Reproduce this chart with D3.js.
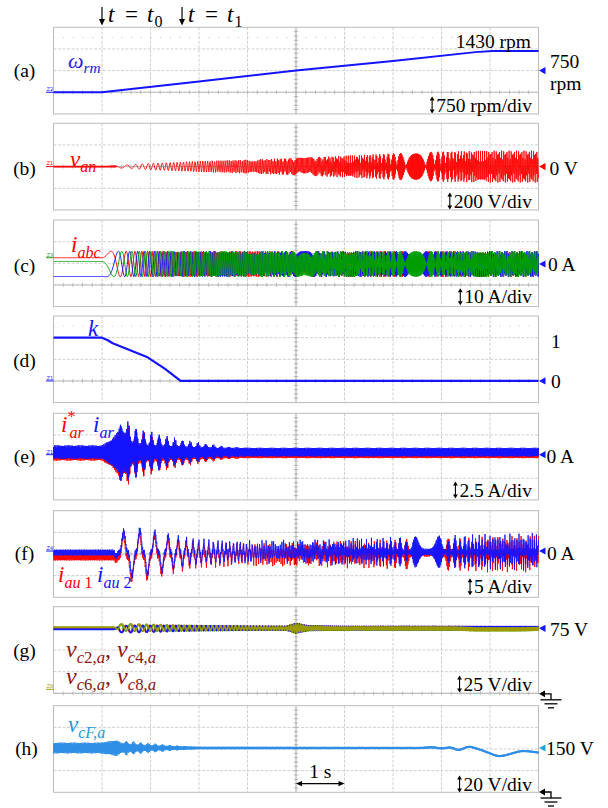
<!DOCTYPE html>
<html>
<head>
<meta charset="utf-8">
<script src="https://cdn.jsdelivr.net/npm/d3@7/dist/d3.min.js"></script>
<style>
  html, body { margin: 0; padding: 0; background: #ffffff; }
  svg { display: block; }
</style>
</head>
<body>
<svg id="scope" width="608" height="808" font-family="'Liberation Serif', 'Times New Roman', serif"></svg>
<script>
// ---------------- record and events ----------------
const timeSpan = [0, 10];                 // s, 1 s/div
const timeDivs = [0, 1, 2, 3, 4, 5, 6, 7, 8, 9, 10];
const eventT0 = 1.0;                      // t = t0
const eventT1 = 2.65;                     // t = t1
const acqRate = 117;                      // record points per second
const polePairs = 3;

// ---------------- (a) rotor speed, rpm ----------------
const speedT   = [0, 1.0, 3.0, 5.0, 7.0, 8.7, 9.05, 10];
const speedRpm = [0, 0, 375, 750, 1086, 1390, 1430, 1430];

// ---------------- (b) phase voltage envelope, V ----------------
const vanEnvT = [0, 1.0, 1.3, 1.5, 2.0, 2.5, 3.0, 4.0, 5.0, 6.0, 7.0, 8.0, 9.0, 10];
const vanEnvV = [0, 0, 10, 16, 30, 40, 50, 64, 80, 100, 122, 140, 147, 148];

// ---------------- (c) stator currents ----------------
const iabcAmp = 5.9;                          // A
const iabcPhaseDeg = [-60.6, 169, 78.8];      // red, blue, green at standstill
const iabcColors = ["#ff0000", "#1414ff", "#00a000"];

// ---------------- (d) k ----------------
const kT = [0, 1.0, 1.12, 1.22, 1.94, 2.3, 2.62, 10];
const kV = [1, 1, 0.94, 0.87, 0.546, 0.28, 0, 0];

// ---------------- (e) i_ar*, i_ar (A) ----------------
const iarBandT  = [0, 1.0, 1.2, 1.38, 1.5, 1.65, 2.0, 3.5, 10];
const iarBandA  = [0.78, 0.78, 1.5, 2.7, 2.2, 1.1, 0.85, 0.5, 0.5];
const iarSpikeT = [0, 1.3, 1.45, 1.6, 2.0, 2.3, 2.6, 3.0, 3.5, 4.0, 10];
const iarSpikeA = [0, 0, 1.2, 2.0, 1.6, 1.2, 0.85, 0.55, 0.2, 0, 0];
const iarSpikePeriod = 0.16;                  // s
const iarOffset = 0.3, iarRefOffset = 0.1;    // A

// ---------------- (f) i_au1, i_au2 (A) ----------------
const iauOscT  = [0, 1.25, 1.35, 1.45, 1.65, 1.9, 2.2, 2.6, 3.0, 4.0, 5.0, 6.0, 7.0, 8.0, 9.0, 10];
const iauOscA  = [0, 0, 3.0, 5.0, 5.4, 5.1, 4.3, 3.2, 2.4, 2.0, 2.2, 2.5, 2.8, 3.1, 3.5, 3.7];
const iauFreqT  = [0, 1.2, 1.6, 2.2, 2.6, 3.0, 3.5, 4.0, 5.0, 7.7, 9.0, 10];
const iauFreqHz = [2.5, 2.5, 3.0, 3.4, 5.5, 9, 12, 16, 37, 58.5, 68, 70];
const iauPhase0 = 0.35;                       // cycles
const iauBandA = 0.7;
const iauOffT = [0, 1.2, 3.0, 10];
const iau1Off = [-1.5, -1.5, -0.9, -0.7];
const iau2Off = [-0.35, -0.35, -0.2, -0.2];

// ---------------- (g) capacitor voltages (V) ----------------
const vcLevelT   = [0, 1.2, 3.0, 8.3, 8.7, 9.6, 10];
const vcRedLvl   = [74.2, 74.2, 75.3, 75.4, 75.2, 75.0, 75.0];
const vcGreenLvl = [76.0, 76.0, 75.0, 74.8, 74.2, 74.2, 74.6];
const vcBlueLvl  = [73.8, 73.8, 75.2, 75.4, 75.4, 75.4, 75.4];
const vcOliveLvl = [76.4, 76.4, 75.2, 74.9, 73.9, 73.9, 74.5];
const vcOscT = [0, 1.25, 1.35, 1.6, 2.0, 3.0, 4.0, 4.8, 5.0, 5.25, 6.0, 10];
const vcOscV = [0, 0, 3.8, 4.1, 3.8, 2.9, 2.3, 2.1, 5.5, 2.6, 1.9, 1.7];
const vcFreqT  = [0, 1.25, 1.6, 2.5, 3.5, 5.0, 7.0, 10];
const vcFreqHz = [4.5, 4.5, 5.6, 8.3, 12.5, 20, 30, 40];
const vcShiftDeg = [30, 210, 0, 180];         // red, green, blue, olive

// ---------------- (h) flying capacitor voltage (V) ----------------
const vcfLevelT = [0, 7.6, 7.8, 8.0, 8.2, 8.35, 8.56, 8.8, 9.0, 9.16, 9.3, 9.5, 9.64, 9.8, 10];
const vcfLevelV = [150, 150, 150.8, 149.5, 150.7, 147.6, 151.6, 148.5, 145, 142.3, 143, 145.6, 147.3, 147, 145.7];
const vcfBandT  = [0, 0.95, 1.2, 1.3, 1.4, 1.7, 2.0, 2.5, 3.0, 10];
const vcfBandV  = [5.0, 5.0, 6.5, 7.5, 4.5, 3.4, 2.6, 1.7, 1.2, 1.0];
const vcfSpikeT = [0, 1.35, 1.5, 2.0, 2.5, 2.9, 10];
const vcfSpikeV = [0, 0, 3.0, 2.0, 0.8, 0, 0];
const vcfSpikePeriod = 0.15;

// ---------------- layout ----------------
const FONT = "'Liberation Serif', 'Times New Roman', serif";
const svg = d3.select("#scope");
const X0 = 53.5, X1 = 538.5, DIV_H = 21.65;
const DIV_W = (X1 - X0) / 10;
const x = d3.scaleLinear().domain(timeSpan).range([X0, X1]);
const panelTop = [27.3, 123.3, 220, 316, 413.3, 510.7, 606.7, 705.7];

const lerp = (ts, vs) => d3.scaleLinear().domain(ts).range(vs).clamp(true);
const yScale = (v0, y0, perDiv) => d3.scaleLinear().domain([v0, v0 + perDiv]).range([y0, y0 - DIV_H]);

// integrated phase (cycles) of a frequency profile
function phaseOf(freq, from, phase0) {
  const dt = 0.0005, n = Math.round((timeSpan[1] - timeSpan[0]) / dt);
  const cum = new Float64Array(n + 1);
  for (let i = 1; i <= n; i++) {
    const tm = (i - 0.5) * dt;
    cum[i] = cum[i - 1] + (tm >= from ? freq(tm) * dt : 0);
  }
  return t => {
    const u = Math.max(0, Math.min(n - 1e-9, t / dt)), i = Math.floor(u);
    return phase0 + cum[i] + (cum[i + 1] - cum[i]) * (u - i);
  };
}
// piecewise-linear knots rounded off with a short moving average
function smoothed(ts, vs, halfWin) {
  const f = lerp(ts, vs), k = 8;
  return t => d3.mean(d3.range(-k, k + 1), j => f(t + j * halfWin / k));
}
// deterministic ripple used to texture the noise bands
const ripple = (i, s) => 0.62 + 0.38 * Math.abs(Math.sin(i * 2.39996 + s));
const sampleTimes = n => d3.range(n + 1).map(i => timeSpan[0] + (timeSpan[1] - timeSpan[0]) * i / n);
const acqTimes = sampleTimes(Math.round((timeSpan[1] - timeSpan[0]) * acqRate));

// ---------------- graticule ----------------
function frame(top, axisRow, dottedRow) {
  const g = svg.append("g");
  const bottom = top + 4 * DIV_H;
  g.selectAll(null).data([1, 2, 3]).join("line")
    .attr("x1", X0).attr("x2", X1)
    .attr("y1", r => top + r * DIV_H).attr("y2", r => top + r * DIV_H)
    .attr("stroke", "#d0d0d0").attr("stroke-width", 1).attr("stroke-dasharray", "3,1.5");
  g.selectAll(null).data(timeDivs.filter(d => d > 0 && d < 10 && d !== 5)).join("line")
    .attr("x1", d => x(d)).attr("x2", d => x(d)).attr("y1", top).attr("y2", bottom)
    .attr("stroke", "#d0d0d0").attr("stroke-width", 1).attr("stroke-dasharray", "3,1.5");
  if (dottedRow) {
    g.append("line").attr("x1", X0).attr("x2", X1)
      .attr("y1", top + DIV_H * 0.47).attr("y2", top + DIV_H * 0.47)
      .attr("stroke", "#c4c4c4").attr("stroke-width", 1).attr("stroke-dasharray", "1,8.7");
  }
  const xc = x(5);
  g.append("line").attr("x1", xc).attr("x2", xc).attr("y1", top).attr("y2", bottom)
    .attr("stroke", "#a8a8a8").attr("stroke-width", 1);
  g.selectAll(null).data(d3.range(1, 20)).join("line")
    .attr("x1", xc - 2.2).attr("x2", xc + 2.2)
    .attr("y1", k => top + k * DIV_H / 5).attr("y2", k => top + k * DIV_H / 5)
    .attr("stroke", "#a8a8a8").attr("stroke-width", 0.8);
  if (axisRow !== null) {
    const ya = top + axisRow * DIV_H;
    g.append("line").attr("x1", X0).attr("x2", X1).attr("y1", ya).attr("y2", ya)
      .attr("stroke", "#bdbdbd").attr("stroke-width", 1);
    g.selectAll(null).data(d3.range(1, 50)).join("line")
      .attr("x1", k => X0 + k * DIV_W / 5).attr("x2", k => X0 + k * DIV_W / 5)
      .attr("y1", ya - 2).attr("y2", ya + 2)
      .attr("stroke", "#b0b0b0").attr("stroke-width", 0.8);
  }
  g.append("rect").attr("x", X0).attr("y", top).attr("width", X1 - X0).attr("height", 4 * DIV_H)
    .attr("fill", "none").attr("stroke", "#bcbcbc").attr("stroke-width", 1);
}

// ---------------- text helpers ----------------
function label(x0, y, str, opts = {}) {
  return svg.append("text").attr("x", x0).attr("y", y).attr("font-family", FONT)
    .attr("font-size", opts.size || 19.5).attr("fill", opts.color || "#000")
    .attr("text-anchor", opts.anchor || "start").attr("dominant-baseline", "central")
    .text(str);
}
function mathLabel(x0, y, parts, color, size) {
  const t = svg.append("text").attr("x", x0).attr("y", y).attr("fill", color)
    .attr("font-family", FONT).attr("font-size", size).attr("xml:space", "preserve");
  let cur = 0;
  for (const p of parts) {
    const off = p.sub ? size * 0.24 : p.sup ? -size * 0.42 : 0;
    const sp = t.append("tspan").attr("dy", off - cur)
      .attr("font-size", (p.sub || p.sup) ? size * 0.7 : size)
      .attr("font-style", p.up ? "normal" : "italic").text(p.s);
    if (p.dx) sp.attr("dx", p.dx);
    cur = off;
  }
  return t;
}
function divLabel(y, str) {
  const t = label(532, y, str, { anchor: "end" });
  const w = t.node().getComputedTextLength();
  const ax = 532 - w - 4;
  const g = svg.append("g").attr("fill", "#000");
  g.append("line").attr("x1", ax).attr("x2", ax).attr("y1", y - 5).attr("y2", y + 5)
    .attr("stroke", "#000").attr("stroke-width", 1.1);
  g.append("path").attr("d", `M${ax - 2.4},${y - 4.5}L${ax},${y - 8.5}L${ax + 2.4},${y - 4.5}Z`);
  g.append("path").attr("d", `M${ax - 2.4},${y + 4.5}L${ax},${y + 8.5}L${ax + 2.4},${y + 4.5}Z`);
}
function refMarker(y, color) {
  svg.append("path").attr("d", `M539,${y}L545.5,${y - 3.6}L545.5,${y + 3.6}Z`).attr("fill", color);
}
function zMarker(y, txt, color) {
  svg.append("line").attr("x1", 46).attr("x2", X0).attr("y1", y).attr("y2", y)
    .attr("stroke", color).attr("stroke-width", 1);
  svg.append("text").attr("x", 46.5).attr("y", y - 1.2).attr("font-size", 5)
    .attr("font-family", "DejaVu Sans").attr("fill", color).text(txt);
}
function ground(yg) {
  const g = svg.append("g").attr("stroke", "#000").attr("stroke-width", 1.3).attr("fill", "none");
  g.append("path").attr("d", `M539,${yg}L545,${yg - 3.4}L545,${yg + 3.4}Z`).attr("fill", "#000").attr("stroke", "none");
  g.append("path").attr("d", `M545,${yg}H551V${yg + 6}`);
  g.append("line").attr("x1", 540.5).attr("x2", 561.5).attr("y1", yg + 6).attr("y2", yg + 6);
  g.append("line").attr("x1", 544.5).attr("x2", 557.5).attr("y1", yg + 10).attr("y2", yg + 10);
  g.append("line").attr("x1", 548).attr("x2", 554).attr("y1", yg + 14).attr("y2", yg + 14);
}
function panelTag(y, str, xc) {
  label(xc || 24.5, y, str, { anchor: "middle", size: 19.5 });
}
function trace(data, yS, color, width, opacity) {
  svg.append("path").datum(data)
    .attr("d", d3.line().x(d => x(d[0])).y(d => yS(d[1])))
    .attr("fill", "none").attr("stroke", color).attr("stroke-width", width)
    .attr("stroke-opacity", opacity || 1)
    .attr("stroke-linejoin", "round");
}

// ---------------- shared signals ----------------
const speed = lerp(speedT, speedRpm);
const thetaE = phaseOf(t => polePairs * speed(t) / 60, 0, 0);
const BLUE = "#1414ff", RED = "#ff0000";

// ---------------- event markers ----------------
function eventArrow(t, sub) {
  const ax = x(t);
  svg.append("line").attr("x1", ax).attr("x2", ax).attr("y1", 7).attr("y2", 20)
    .attr("stroke", "#000").attr("stroke-width", 1.2);
  svg.append("path").attr("d", `M${ax - 3},${19}L${ax},${25.5}L${ax + 3},${19}Z`).attr("fill", "#000");
  const base = 22;
  const txt = (xx, yy, s, size, it) => svg.append("text").attr("x", xx).attr("y", yy)
    .attr("font-family", FONT).attr("font-size", size).attr("font-style", it ? "italic" : "normal").text(s);
  txt(ax + 6, base, "t", 23, true);
  txt(ax + 23, base, "=", 23, false);
  txt(ax + 45, base, "t", 23, true);
  txt(ax + 52.5, base + 5, sub, 16, false);
}
eventArrow(eventT0, "0");
eventArrow(eventT1, "1");

// ---------------- (a) ----------------
{
  const top = panelTop[0];
  frame(top, 3, true);
  const yS = yScale(0, top + 3 * DIV_H, 750);
  zMarker(yS(0), "Z2", BLUE);
  trace(speedT.map((t, i) => [t, speedRpm[i]]), yS, BLUE, 2);
  mathLabel(68, 68, [{ s: "ω" }, { s: "rm", sub: true }], "#2323e6", 22);
  label(531, 41, "1430 rpm", { anchor: "end" });
  refMarker(yS(750), BLUE);
  label(550, 61, "750");
  label(550, 83.5, "rpm");
  divLabel(105, "750 rpm/div");
  panelTag(70.7, "(a)");
}

// ---------------- (b) ----------------
{
  const top = panelTop[1];
  frame(top, 2, false);
  const yS = yScale(0, top + 2 * DIV_H, 200);
  zMarker(yS(0), "Z1", RED);
  const env = lerp(vanEnvT, vanEnvV);
  trace(acqTimes.map(t => [t, env(t) * Math.sin(2 * Math.PI * thetaE(t))]), yS, RED, 0.85);
  svg.append("line").attr("x1", X0).attr("x2", x(1.3)).attr("y1", yS(0)).attr("y2", yS(0))
    .attr("stroke", RED).attr("stroke-width", 1.8);
  mathLabel(70, 166.5, [{ s: "v" }, { s: "an", sub: true }], RED, 23);
  refMarker(yS(0), RED);
  label(549.5, 168.5, "0 V");
  divLabel(201, "200 V/div");
  panelTag(168, "(b)");
}

// ---------------- (c) ----------------
{
  const top = panelTop[2];
  frame(top, 3, false);
  const yS = yScale(0, 264, 10);
  iabcPhaseDeg.forEach((ph, k) => {
    const phi = ph * Math.PI / 180;
    trace(acqTimes.map(t => [t, iabcAmp * Math.cos(2 * Math.PI * thetaE(t) + phi)]), yS, iabcColors[k], 0.95);
  });
  zMarker(yS(iabcAmp * Math.cos(iabcPhaseDeg[0] * Math.PI / 180)), "Z3", "#2a9a2a");
  mathLabel(71, 252, [{ s: "i" }, { s: "abc", sub: true }], RED, 23);
  refMarker(yS(0), BLUE);
  label(548, 264.5, "0 A");
  divLabel(296.7, "10 A/div");
  panelTag(265, "(c)");
}

// ---------------- (d) ----------------
{
  const top = panelTop[3];
  frame(top, 3, true);
  const yS = yScale(0, top + 3 * DIV_H, 0.5);
  zMarker(yS(0), "Z1", BLUE);
  trace(kT.map((t, i) => [t, kV[i]]), yS, BLUE, 2.2);
  mathLabel(88, 336, [{ s: "k" }], BLUE, 23);
  label(551, yS(1) + 3.5, "1");
  refMarker(yS(0), BLUE);
  label(551, yS(0) + 0.5, "0");
  panelTag(360, "(d)");
}

// ---------------- (e) ----------------
{
  const top = panelTop[4];
  frame(top, 2, false);
  const yS = yScale(0, 454.7, 2.5);
  const band = lerp(iarBandT, iarBandA), spike = lerp(iarSpikeT, iarSpikeA);
  const pulse = t => Math.pow(Math.abs(Math.cos(Math.PI * (t - 1.38) / iarSpikePeriod)), 4);
  const hw = t => band(t) + spike(t) * pulse(t);
  const ts = sampleTimes(1455);
  trace(ts.map((t, i) => [t, iarRefOffset + (i % 2 ? -1 : 1) * ripple(i, 1.9) * hw(t)]), yS, RED, 1);
  trace(ts.map((t, i) => [t, iarOffset + (i % 2 ? 1 : -1) * ripple(i, 0.4) * hw(t)]), yS, BLUE, 1);
  zMarker(yS(0), "Z1", BLUE);
  mathLabel(61, 432, [{ s: "i" }, { s: "*", sup: true, up: true }, { s: "ar", sub: true, dx: -6 }], RED, 23);
  mathLabel(93, 432, [{ s: "i" }, { s: "ar", sub: true }], BLUE, 23);
  refMarker(yS(0), BLUE);
  label(546.5, 456.5, "0 A");
  divLabel(490, "2.5 A/div");
  panelTag(456, "(e)");
}

// ---------------- (f) ----------------
{
  const top = panelTop[5];
  frame(top, 2, false);
  const yS = yScale(0, 551, 5);
  const amp = lerp(iauOscT, iauOscA);
  const ph = phaseOf(lerp(iauFreqT, iauFreqHz), 1.2, iauPhase0);
  const off1 = lerp(iauOffT, iau1Off), off2 = lerp(iauOffT, iau2Off);
  const shape = p => { const c = Math.cos(2 * Math.PI * p); return Math.sign(c) * Math.pow(Math.abs(c), 2.6); };
  trace(acqTimes.map((t, i) => [t, off1(t) + amp(t) * shape(ph(t) + 0.02) + (i % 2 ? -1 : 1) * ripple(i, 2.2) * iauBandA]), yS, RED, 0.9);
  trace(acqTimes.map((t, i) => [t, off2(t) + amp(t) * shape(ph(t)) + (i % 2 ? 1 : -1) * ripple(i, 0.9) * iauBandA]), yS, BLUE, 0.9);
  zMarker(yS(0), "Z4", BLUE);
  mathLabel(58, 582, [{ s: "i" }, { s: "au", sub: true }, { s: " 1", sub: true, up: true }], RED, 23);
  mathLabel(97, 582, [{ s: "i" }, { s: "au", sub: true }, { s: " 2", sub: true, up: true }], BLUE, 23);
  refMarker(yS(0), BLUE);
  label(547, 553.5, "0 A");
  divLabel(586.7, "5 A/div");
  panelTag(553.5, "(f)");
}

// ---------------- (g) ----------------
{
  const top = panelTop[6];
  frame(top, 4, false);
  const yS = yScale(0, top + 4 * DIV_H, 25);
  const amp = lerp(vcOscT, vcOscV);
  const ph = phaseOf(lerp(vcFreqT, vcFreqHz), 1.25, 0);
  const ts = sampleTimes(4000);
  const levels = [vcRedLvl, vcGreenLvl, vcBlueLvl, vcOliveLvl];
  const colors = ["#c41a1a", "#109a3a", BLUE, "#9c9c00"];
  levels.forEach((lv, k) => {
    const L = lerp(vcLevelT, lv);
    const s = vcShiftDeg[k] / 360;
    trace(ts.map(t => [t, L(t) + amp(t) * Math.sin(2 * Math.PI * (ph(t) + s))]), yS, colors[k], 1.6);
  });
  zMarker(yS(0) - 4, "Z8", "#9c9c00");
  const DR = "#8c1414";
  mathLabel(66, 657, [{ s: "v" }, { s: "c", sub: true }, { s: "2,", sub: true, up: true }, { s: "a", sub: true },
    { s: ", ", up: true }, { s: "v" }, { s: "c", sub: true }, { s: "4,", sub: true, up: true }, { s: "a", sub: true }], DR, 24);
  mathLabel(66, 684, [{ s: "v" }, { s: "c", sub: true }, { s: "6,", sub: true, up: true }, { s: "a", sub: true },
    { s: ", ", up: true }, { s: "v" }, { s: "c", sub: true }, { s: "8,", sub: true, up: true }, { s: "a", sub: true }], DR, 24);
  refMarker(yS(75), BLUE);
  label(550, 629.5, "75 V");
  divLabel(684, "25 V/div");
  ground(yS(0) + 0.5);
  panelTag(650, "(g)");
}

// ---------------- (h) ----------------
{
  const top = panelTop[7];
  frame(top, null, false);
  const yS = yScale(150, 748, 20);
  const level = smoothed(vcfLevelT, vcfLevelV, 0.07), band = lerp(vcfBandT, vcfBandV), spike = lerp(vcfSpikeT, vcfSpikeV);
  const pulse = t => Math.pow(Math.abs(Math.cos(Math.PI * (t - 1.5) / vcfSpikePeriod)), 4);
  const ts = sampleTimes(1455);
  trace(ts.map((t, i) => [t, level(t) + (i % 2 ? 1 : -1) * ripple(i, 1.3) * (band(t) + spike(t) * pulse(t))]), yS, "#2e8ee6", 1);
  mathLabel(68, 732, [{ s: "v" }, { s: "cF,a", sub: true }], "#1e9bd7", 23);
  refMarker(yS(150), "#22a6d8");
  label(546, 748.5, "150 V");
  divLabel(784, "20 V/div");
  ground(792);
  const y1s = 783.6, xa = x(5), xb = x(6);
  svg.append("line").attr("x1", xa + 3).attr("x2", xb - 3).attr("y1", y1s).attr("y2", y1s)
    .attr("stroke", "#000").attr("stroke-width", 1.2);
  svg.append("path").attr("d", `M${xa + 6},${y1s - 2.6}L${xa},${y1s}L${xa + 6},${y1s + 2.6}Z`).attr("fill", "#000");
  svg.append("path").attr("d", `M${xb - 6},${y1s - 2.6}L${xb},${y1s}L${xb - 6},${y1s + 2.6}Z`).attr("fill", "#000");
  label((xa + xb) / 2, 771.5, "1 s", { anchor: "middle" });
  panelTag(748.5, "(h)", 26.5);
}
</script>
</body>
</html>
